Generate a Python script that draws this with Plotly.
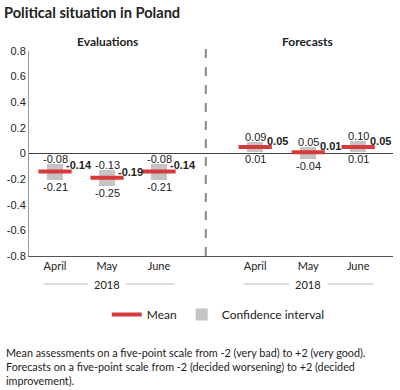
import plotly.graph_objects as go

# ---- data ----
months = ["April", "May", "June"]
year_label = "2018"
eval_mean = [-0.14, -0.19, -0.14]
eval_upper = [-0.08, -0.13, -0.08]
eval_lower = [-0.21, -0.25, -0.21]
fc_mean = [0.05, 0.01, 0.05]
fc_upper = [0.09, 0.05, 0.10]
fc_lower = [0.01, -0.04, 0.01]
y_ticks = [0.8, 0.6, 0.4, 0.2, 0, -0.2, -0.4, -0.6, -0.8]

# ---- layout constants ----
eval_pos = [0, 1, 2]
fc_pos = [3.85, 4.87, 5.83]
divider = 2.9
box_w = 0.3
line_half = 0.32
RED = "#d63a3a"
GRAY = "#c4c4c4"
TXT = "#222222"
SANS = "Lato"
NUM = "Liberation Sans"

pos = eval_pos + fc_pos
means = eval_mean + fc_mean
uppers = eval_upper + fc_upper
lowers = eval_lower + fc_lower

fig = go.Figure()

# confidence interval boxes
fig.add_trace(go.Bar(
    x=pos, y=[u - l for u, l in zip(uppers, lowers)], base=lowers,
    width=box_w, marker=dict(color=GRAY, line=dict(width=0)),
    name="Confidence interval", hoverinfo="skip", showlegend=True,
))

# mean lines
lx, ly = [], []
for p, m in zip(pos, means):
    lx += [p - line_half, p + line_half, None]
    ly += [m, m, None]
fig.add_trace(go.Scatter(
    x=lx, y=ly, mode="lines", line=dict(color=RED, width=4),
    name="Mean", hoverinfo="skip",
))

ann = []
for p, m, u, l in zip(pos, means, uppers, lowers):
    ann.append(dict(x=p, y=u, text=f"{u:.2f}", showarrow=False, xanchor="center",
                    yanchor="bottom", yshift=-3,
                    font=dict(family=NUM, size=11, color=TXT)))
    ann.append(dict(x=p, y=l, text=f"{l:.2f}", showarrow=False, xanchor="center",
                    yanchor="top", yshift=1,
                    font=dict(family=NUM, size=11, color=TXT)))
    ann.append(dict(x=p + 0.18, y=m, text=f"<b>{m:.2f}</b>", showarrow=False,
                    xanchor="left", yanchor="middle", yshift=6,
                    font=dict(family=NUM, size=11, color=TXT)))

# section titles
ann.append(dict(x=1, y=1.044, xref="x", yref="paper", text="<b>Evaluations</b>",
                showarrow=False, xanchor="center", yanchor="middle",
                font=dict(family=SANS, size=12, color=TXT)))
ann.append(dict(x=4.85, y=1.044, xref="x", yref="paper", text="<b>Forecasts</b>",
                showarrow=False, xanchor="center", yanchor="middle",
                font=dict(family=SANS, size=12, color=TXT)))

# year labels + lines
shapes = []
for grp in (eval_pos, fc_pos):
    c = grp[1]
    ann.append(dict(x=c, y=-0.137, xref="x", yref="paper", text=year_label,
                    showarrow=False, xanchor="center", yanchor="middle",
                    font=dict(family=SANS, size=11, color=TXT)))
    shapes.append(dict(type="line", xref="x", yref="paper", x0=grp[0] - 0.22, x1=c - 0.37,
                       y0=-0.137, y1=-0.137, line=dict(color="#bbbbbb", width=1)))
    shapes.append(dict(type="line", xref="x", yref="paper", x0=c + 0.37, x1=grp[2] + 0.3,
                       y0=-0.137, y1=-0.137, line=dict(color="#bbbbbb", width=1)))

# divider
shapes.append(dict(type="line", xref="x", yref="paper", x0=divider, x1=divider,
                   y0=0, y1=1.02, line=dict(color="#888888", width=2, dash="dash")))

# footnote
ann.append(dict(x=-0.069, y=-0.43, xref="paper", yref="paper", xanchor="left", yanchor="top",
                align="left", showarrow=False,
                text="Mean assessments on a five-point scale from -2 (very bad) to +2 (very good).<br>"
                     "Forecasts on a five-point scale from -2 (decided worsening) to +2 (decided<br>"
                     "improvement).",
                font=dict(family=SANS, size=10.8, color=TXT)))

fig.update_layout(
    width=400, height=390,
    margin=dict(l=29, r=7, t=51, b=134, autoexpand=False),
    paper_bgcolor="white", plot_bgcolor="white",
    title=dict(text="<b>Political situation in Poland</b>", xref="container", yref="container",
               x=0.01, xanchor="left", y=1 - 13 / 390, yanchor="middle",
               font=dict(family=SANS, size=14.6, color=TXT)),
    xaxis=dict(range=[-0.5, 6.5], tickvals=pos, ticktext=months + months,
               showgrid=False, zeroline=False, showline=True, linecolor="#555555",
               linewidth=1, ticks="", tickfont=dict(family=SANS, size=11, color=TXT),
               fixedrange=True, automargin=False),
    yaxis=dict(range=[-0.8, 0.8], tickvals=y_ticks, ticktext=[f"{v:g}" for v in y_ticks],
               showgrid=False, zeroline=True, zerolinecolor="#444444", zerolinewidth=1,
               showline=True, linecolor="#999999", linewidth=1, ticks="",
               tickfont=dict(family=NUM, size=11, color=TXT), automargin=False),
    legend=dict(orientation="h", x=0.52, xanchor="center", y=-0.215, yanchor="top",
                traceorder="reversed", font=dict(family=SANS, size=12, color=TXT),
                itemwidth=30),
    annotations=ann, shapes=shapes, bargap=0,
    showlegend=True,
)

fig.write_html("out.html", config={"displayModeBar": False},
               post_script="document.body.style.margin='0';document.body.style.padding='0';")
